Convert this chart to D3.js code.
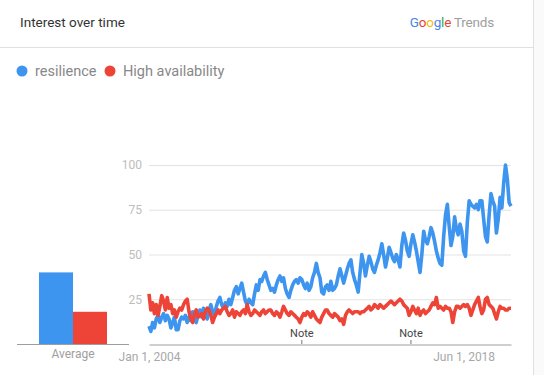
<!DOCTYPE html>
<html>
<head>
<meta charset="utf-8">
<script src="https://cdn.jsdelivr.net/npm/d3@7"></script>
<style>
  body { margin: 0; background: #fafafa; font-family: Roboto, "Noto Sans", sans-serif; }
  svg { display: block; }
</style>
</head>
<body>
<svg width="544" height="375"></svg>
<script>
// series names
var seriesNames = ["resilience", "High availability"];
var seriesColors = ["#3d95ef", "#ee4437"];

// monthly values from Jan 2004
var resilience = [
  10, 7, 12, 9, 14, 16, 12, 15, 17, 13,
  16, 14, 9, 12, 15, 8, 8, 13, 15, 14,
  16, 12, 15, 13, 18, 14, 12, 16, 19, 15,
  20, 17, 14, 19, 22, 18, 16, 21, 24, 26,
  22, 20, 23, 21, 25, 22, 26, 30, 32, 28,
  31, 34, 29, 24, 22, 25, 23, 22, 28, 33,
  30, 36, 35, 38, 40, 36, 33, 30, 31, 29,
  33, 36, 38, 35, 37, 31, 28, 26, 30, 33,
  35, 36, 34, 37, 36, 33, 31, 34, 30, 32,
  37, 40, 45, 40, 37, 29, 28, 32, 33, 30,
  35, 30, 31, 33, 38, 42, 38, 34, 38, 42,
  45, 47, 40, 36, 33, 29, 40, 50, 45, 38,
  44, 49, 46, 42, 40, 44, 47, 51, 56, 50,
  43, 48, 54, 51, 48, 46, 50, 47, 43, 55,
  62, 58, 52, 49, 56, 61, 57, 52, 46, 40,
  50, 63, 58, 56, 60, 65, 62, 57, 52, 48,
  45, 44, 60, 72, 78, 66, 55, 60, 71, 64,
  61, 67, 63, 52, 49, 68, 80, 78, 77, 76,
  78, 75, 80, 80, 70, 60, 57, 72, 84, 80,
  77, 62, 70, 82, 76, 90, 100, 92, 79, 77
];

var highAvailability = [
  28, 19, 23, 17, 22, 16, 21, 27, 24, 19,
  26, 20, 22, 17, 19, 15, 18, 20, 19, 22,
  24, 25, 18, 14, 12, 17, 19, 15, 16, 17,
  14, 18, 20, 19, 16, 12, 15, 17, 19, 17,
  19, 20, 21, 18, 16, 17, 19, 15, 18, 17,
  16, 18, 19, 17, 22, 18, 16, 17, 19, 18,
  17, 16, 18, 19, 17, 18, 19, 19, 17, 16,
  18, 17, 15, 18, 21, 19, 17, 16, 18, 17,
  16, 15, 14, 12, 15, 17, 16, 18, 17, 15,
  18, 16, 14, 13, 12, 15, 17, 19, 19, 17,
  16, 15, 17, 16, 15, 13, 14, 11, 16, 18,
  19, 18, 17, 18, 18, 18, 17, 18, 18, 19,
  20, 21, 19, 20, 22, 21, 20, 22, 21, 20,
  21, 22, 23, 24, 23, 22, 23, 24, 25, 24,
  22, 21, 20, 16, 18, 21, 19, 17, 20, 16,
  18, 19, 17, 18, 19, 21, 23, 22, 26, 20,
  21, 20, 19, 21, 20, 20, 18, 12, 18, 21,
  21, 20, 21, 22, 21, 22, 20, 16, 19, 22,
  24, 26, 21, 17, 19, 25, 26, 22, 21, 20,
  17, 14, 18, 21, 20, 20, 19, 19, 20, 20
];

var averages = [40, 18];
var yTicks = [25, 50, 75, 100];
var xTickDates = [new Date(2004, 0, 1), new Date(2018, 5, 1)];
var noteDates = [new Date(2011, 0, 1), new Date(2016, 0, 1)];

var dates = resilience.map(function(d, i) { return new Date(2004, i, 1); });

var svg = d3.select("svg");

// card
svg.append("rect")
    .attr("x", 0).attr("y", 0)
    .attr("width", 533.5).attr("height", 375)
    .attr("fill", "#fff");
svg.append("line")
    .attr("x1", 533.5).attr("x2", 533.5)
    .attr("y1", 0).attr("y2", 375)
    .attr("stroke", "#e0e0e0");
svg.append("line")
    .attr("x1", 0).attr("x2", 533)
    .attr("y1", 47.5).attr("y2", 47.5)
    .attr("stroke", "#e0e0e0");

// header
svg.append("text")
    .attr("x", 20).attr("y", 27)
    .attr("font-size", 13.5)
    .attr("fill", "#333")
    .text("Interest over time");

var logo = svg.append("text")
    .attr("x", 494).attr("y", 27)
    .attr("text-anchor", "end")
    .attr("font-family", "Roboto, sans-serif")
    .attr("font-size", 13.5)
    .attr("letter-spacing", -0.2);
var logoParts = [["G", "#4285f4"], ["o", "#ea4335"], ["o", "#fbbc05"], ["g", "#4285f4"], ["l", "#34a853"], ["e", "#ea4335"], [" Trends", "#9e9e9e"]];
logoParts.forEach(function(p) {
  logo.append("tspan").attr("fill", p[1]).text(p[0]);
});

// legend
var legend = svg.append("g");
var legendX = [22, 110];
seriesNames.forEach(function(name, i) {
  legend.append("circle")
      .attr("cx", legendX[i]).attr("cy", 71)
      .attr("r", 5.5)
      .attr("fill", seriesColors[i]);
  legend.append("text")
      .attr("x", legendX[i] + 13).attr("y", 76)
      .attr("font-size", 14.5)
      .attr("fill", "#888")
      .text(name);
});

// scales
var y = d3.scaleLinear().domain([0, 100]).range([344, 165]);
var x = d3.scaleTime().domain(d3.extent(dates)).range([149, 511]);
var xb = d3.scaleBand().domain(seriesNames).range([39, 107]);

// average bars
svg.append("g").selectAll("rect")
    .data(averages)
    .enter().append("rect")
      .attr("x", function(d, i) { return xb(seriesNames[i]); })
      .attr("width", xb.bandwidth())
      .attr("y", function(d) { return y(d); })
      .attr("height", function(d) { return y(0) - y(d); })
      .attr("fill", function(d, i) { return seriesColors[i]; });

svg.append("line")
    .attr("x1", 17).attr("x2", 129)
    .attr("y1", 344.5).attr("y2", 344.5)
    .attr("stroke", "#9e9e9e");
svg.append("text")
    .attr("x", 73).attr("y", 358)
    .attr("text-anchor", "middle")
    .attr("font-size", 12)
    .attr("fill", "#9e9e9e")
    .text("Average");

// y axis + grid
var yAxis = svg.append("g")
    .attr("transform", "translate(149,0)")
    .call(d3.axisLeft(y).tickValues(yTicks).tickSize(-362).tickPadding(7));
yAxis.select(".domain").remove();
yAxis.selectAll(".tick line").attr("stroke", "#e3e3e3");
yAxis.selectAll(".tick text")
    .attr("font-size", 12)
    .attr("font-family", "Roboto, sans-serif")
    .attr("fill", "#bdbdbd");

// x axis
var xAxis = svg.append("g")
    .attr("transform", "translate(0,344.5)")
    .call(d3.axisBottom(x).tickValues(xTickDates).tickSize(0).tickPadding(8)
      .tickFormat(d3.timeFormat("%b %-d, %Y")));
xAxis.select(".domain").attr("stroke", "#9e9e9e");
xAxis.selectAll(".tick text")
    .attr("font-size", 12)
    .attr("font-family", "Roboto, sans-serif")
    .attr("fill", "#a8a8a8");

// lines
var line = d3.line()
    .x(function(d, i) { return x(dates[i]); })
    .y(function(d) { return y(d); });

[resilience, highAvailability].forEach(function(series, i) {
  svg.append("path")
      .datum(series)
      .attr("d", line)
      .attr("fill", "none")
      .attr("stroke", seriesColors[i])
      .attr("stroke-width", 3.6)
      .attr("stroke-linejoin", "round");
});

// notes
var notes = svg.append("g").selectAll("g")
    .data(noteDates)
    .enter().append("g")
      .attr("transform", function(d) { return "translate(" + x(d) + ",0)"; });
notes.append("line")
    .attr("y1", 340).attr("y2", 344)
    .attr("stroke", "#777");
notes.append("text")
    .attr("y", 337)
    .attr("text-anchor", "middle")
    .attr("font-size", 11)
    .attr("fill", "#444")
    .text("Note");
</script>
</body>
</html>
